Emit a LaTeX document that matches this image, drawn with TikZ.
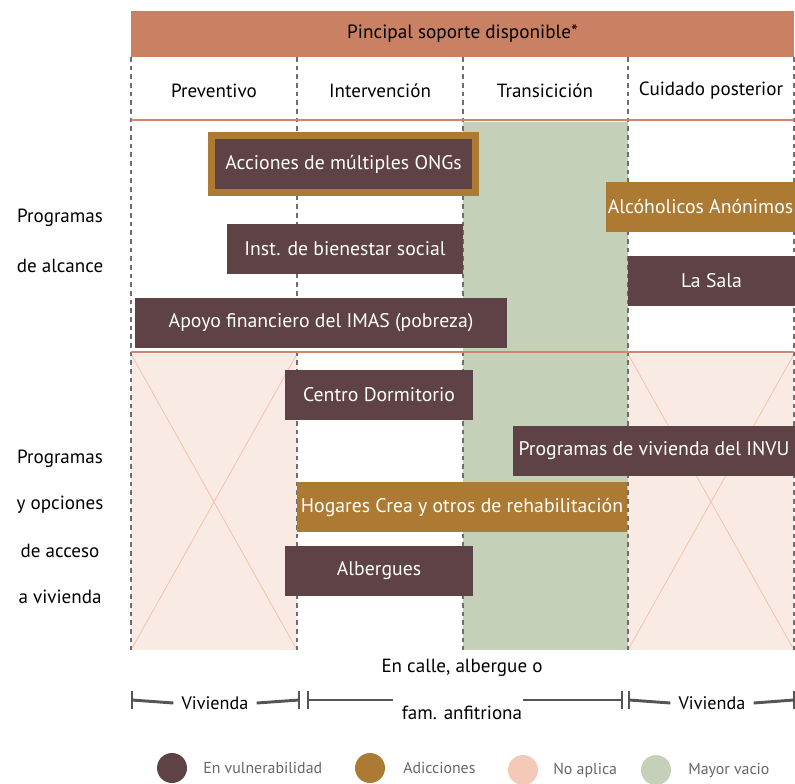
\documentclass[tikz,border=0pt]{standalone}
\usepackage{fontspec}
\setmainfont{PT Sans}
\definecolor{hdr}{HTML}{C98063}
\definecolor{darkbox}{HTML}{5F4246}
\definecolor{goldbox}{HTML}{AD7A33}
\definecolor{vacio}{HTML}{C4D0B8}
\definecolor{pinkfill}{HTML}{FAEAE4}
\definecolor{pinkline}{HTML}{F3C2AE}
\definecolor{pinkdot}{HTML}{F5C9B8}
\definecolor{rulec}{HTML}{D4846A}
\definecolor{dashc}{HTML}{6E6E6E}
\definecolor{axisc}{HTML}{555555}
\definecolor{legtext}{HTML}{666666}
\begin{document}
\begin{tikzpicture}[x=0.75pt,y=-0.75pt,
  txt/.style={font=\fontsize{14.3}{16}\selectfont, text=black, inner sep=0pt},
  boxbase/.style={inner sep=0pt, text=white, font=\fontsize{14.8}{17}\selectfont, minimum height=37.5pt},
  dbox/.style={boxbase, fill=darkbox},
  gbox/.style={boxbase, fill=goldbox},
  wd/.style={minimum width={#1*0.75pt}},
  gridline/.style={draw=dashc, line width=1.1pt, dash pattern=on 3.5pt off 3pt},
  rulel/.style={draw=rulec, line width=2.2pt},
  xline/.style={draw=pinkline, line width=0.6pt},
  axisl/.style={draw=axisc, line width=2.2pt},
  tick/.style={draw=axisc, line width=2.2pt},
  dot/.style={circle, minimum size=22.5pt, inner sep=0pt},
  legl/.style={font=\fontsize{11.9}{13}\selectfont, text=legtext, inner sep=0pt, anchor=west}
]
\useasboundingbox (0,0) rectangle (795,783);
% backgrounds
\fill[vacio] (463,122) rectangle (628,650);
\fill[pinkfill] (131,354) rectangle (297,650);
\fill[pinkfill] (628,354) rectangle (794,650);
\draw[xline] (131,354) -- (297,650) (297,354) -- (131,650);
\draw[xline] (628,354) -- (794,650) (794,354) -- (628,650);
% header
\node[fill=hdr, inner sep=0pt, minimum width={663*0.75pt}, minimum height={46*0.75pt}, font=\fontsize{14.4}{16}\selectfont] (hdr) at (462.5,34) {Pincipal soporte disponible*};
% grid lines
\foreach \x/\n in {131/a,297/b,463/c,628/d,794/e}{
  \coordinate (top\n) at (\x,57);
  \coordinate (bot\n) at (\x,650);
  \draw[gridline] (top\n) -- (bot\n);
}
\node[txt] (c1) at (214,91) {Preventivo};
\node[txt] (c2) at (380,91) {Intervención};
\node[txt] (c3) at (545,91) {Transicición};
\node[txt] (c4) at (711,91) {Cuidado posterior};
\coordinate (r1a) at (131,120); \coordinate (r1b) at (794,120);
\coordinate (r2a) at (131,352); \coordinate (r2b) at (794,352);
\draw[rulel] (r1a) -- (r1b);
\draw[rulel] (r2a) -- (r2b);
% row labels
\node[txt] (l1) at (60,218) {Programas};
\node[txt] (l2) at (60,266) {de alcance};
\node[txt] (l3) at (60,459) {Programas};
\node[txt] (l4) at (60,505) {y opciones};
\node[txt] (l5) at (60,551) {de acceso};
\node[txt] (l6) at (60,597) {a vivienda};
% boxes
\node[dbox, draw=goldbox, line width=5pt, minimum width={264*0.75pt}, minimum height={57*0.75pt}] (ong) at (343.5,164) {Acciones de múltiples ONGs};
\node[gbox, wd=189] (aa) at (700.5,207) {Alcóholicos Anónimos};
\node[dbox, wd=236] (ibs) at (345,249) {Inst. de bienestar social};
\node[dbox, wd=167] (sala) at (711.5,281) {La Sala};
\node[dbox, wd=372] (imas) at (321,323) {Apoyo financiero del IMAS (pobreza)};
\node[dbox, wd=188] (cd) at (379,395) {Centro Dormitorio};
\node[dbox, wd=282] (invu) at (654,451) {Programas de vivienda del INVU};
\node[gbox, wd=330] (crea) at (462,507) {Hogares Crea y otros de rehabilitación};
\node[dbox, wd=188] (alb) at (379,571) {Albergues};
% bottom axis
\node[txt] (cal1) at (462,668) {En calle, albergue o};
\node[txt] (cal2) at (462,713) {fam. anfitriona};
\node[txt, font=\fontsize{13.6}{15}\selectfont] (v1) at (215,703) {Vivienda};
\node[txt, font=\fontsize{13.6}{15}\selectfont] (v2) at (712,703) {Vivienda};
\coordinate (t1) at (132,700); \coordinate (t2) at (299,700);
\coordinate (t3) at (308,700); \coordinate (t4) at (393,700);
\coordinate (t5) at (523,700); \coordinate (t6) at (622,700);
\coordinate (t7) at (629,700); \coordinate (t8) at (794,700);
\draw[axisl] (t1) -- ([xshift=-6pt]v1.west);
\draw[axisl] ([xshift=6pt]v1.east) -- (t2);
\draw[axisl] (t3) -- (t4);
\draw[axisl] (t5) -- (t6);
\draw[axisl] (t7) -- ([xshift=-6pt]v2.west);
\draw[axisl] ([xshift=6pt]v2.east) -- (t8);
\foreach \t in {t1,t2,t3,t6,t7,t8}{
  \draw[tick] ([yshift=-7pt]\t) -- ([yshift=7pt]\t);
}
% legend
\node[dot, fill=darkbox] (d1) at (172,768) {};
\node[dot, fill=goldbox] (d2) at (370,768) {};
\node[dot, fill=pinkdot] (d3) at (523,770) {};
\node[dot, fill=vacio] (d4) at (656,770) {};
\node[legl] (e1) at (203,768) {En vulnerabilidad};
\node[legl] (e2) at (403,768) {Adicciones};
\node[legl] (e3) at (553,770) {No aplica};
\node[legl] (e4) at (688,770) {Mayor vacio};
\end{tikzpicture}
\end{document}
